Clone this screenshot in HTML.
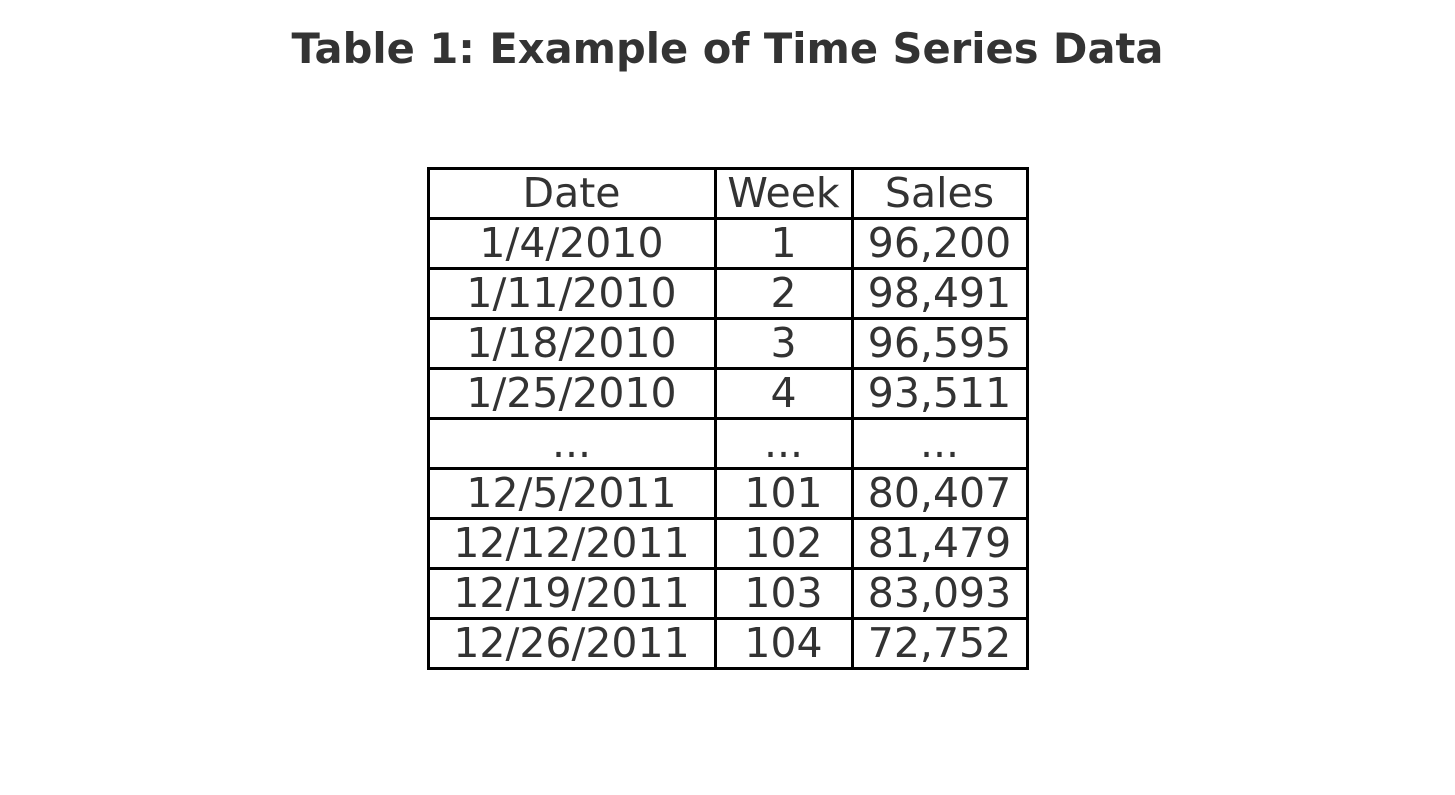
<!DOCTYPE html>
<html><head><meta charset="utf-8"><style>
html,body{margin:0;padding:0;background:#fff;}
body{width:1455px;height:795px;position:relative;overflow:hidden;font-family:"DejaVu Sans","Liberation Sans",sans-serif;color:#333;}
#title{position:absolute;left:0;width:1455px;top:22px;text-align:center;font-weight:bold;font-size:41.6px;line-height:54px;}
.hl{position:absolute;left:426.5px;width:602px;height:3px;background:#000;}
.vl{position:absolute;top:166.5px;height:503px;width:3px;background:#000;}
.c{position:absolute;height:50px;line-height:50px;text-align:center;font-size:41px;white-space:nowrap;}
</style></head><body>
<div id="title">Table 1: Example of Time Series Data</div>
<div id="tbl"></div>
<script>
const rows=[["Date","Week","Sales"],["1/4/2010","1","96,200"],["1/11/2010","2","98,491"],["1/18/2010","3","96,595"],["1/25/2010","4","93,511"],["...","...","..."],["12/5/2011","101","80,407"],["12/12/2011","102","81,479"],["12/19/2011","103","83,093"],["12/26/2011","104","72,752"]];
const colX=[428,715,852,1027];
const top0=168,rh=50;
const t=document.getElementById('tbl');
for(let i=0;i<=rows.length;i++){const d=document.createElement('div');d.className='hl';d.style.top=(top0+i*rh-1.5)+'px';


t.appendChild(d);}
colX.forEach(x=>{const d=document.createElement('div');d.className='vl';d.style.left=(x-1.5)+'px';


t.appendChild(d);});
rows.forEach((r,i)=>r.forEach((v,j)=>{const d=document.createElement('div');d.className='c';
d.style.left=colX[j]+'px';d.style.width=(colX[j+1]-colX[j])+'px';d.style.top=(top0+i*rh)+'px';d.textContent=v;


t.appendChild(d);}));
</script>
</body></html>
